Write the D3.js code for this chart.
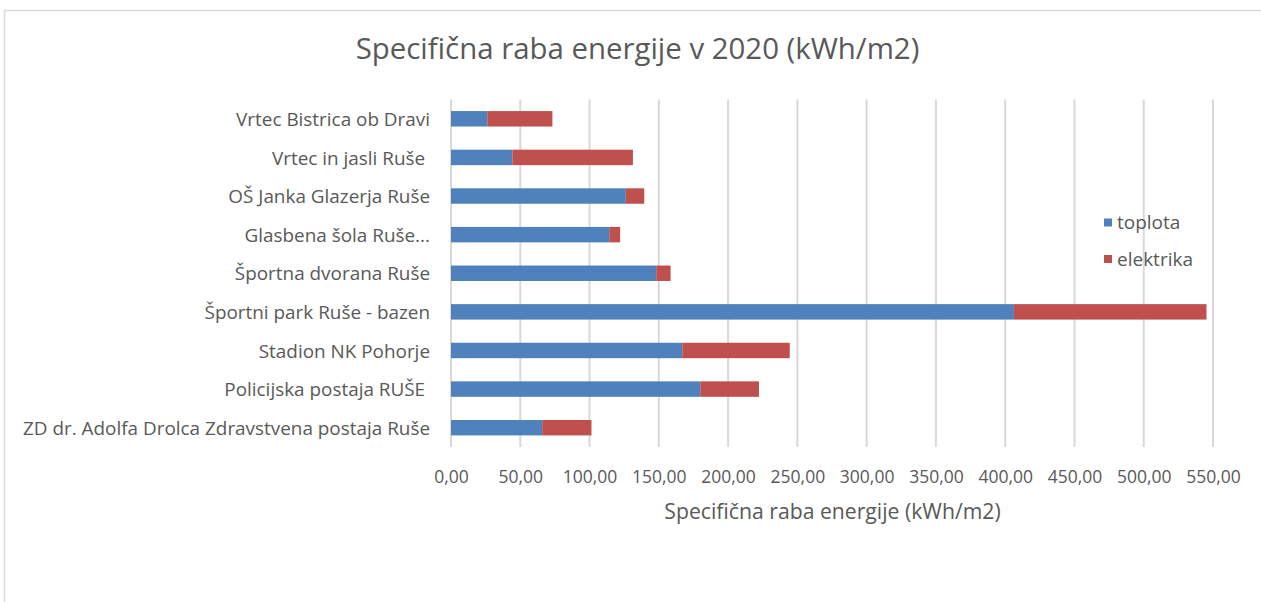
<!DOCTYPE html>
<html><head><meta charset="utf-8">
<script src="https://cdn.jsdelivr.net/npm/d3@7"></script>
<style>body{margin:0;background:#fff}svg{display:block}text{font-family:"Open Sans",sans-serif;fill:#595959;white-space:pre}</style>
</head><body><svg id="c" width="1261" height="602"></svg>
<script>
const categories = ["Vrtec Bistrica ob Dravi","Vrtec in jasli Ruše ","OŠ Janka Glazerja Ruše","Glasbena šola Ruše...","Športna dvorana Ruše","Športni park Ruše - bazen","Stadion NK Pohorje","Policijska postaja RUŠE ","ZD dr. Adolfa Drolca Zdravstvena postaja Ruše"];
const toplota = [26.2, 44.3, 126.2, 114.2, 148.1, 406.3, 166.9, 179.9, 65.8];
const elektrika = [47.0, 87.0, 13.3, 7.9, 10.4, 139.0, 77.6, 42.4, 35.6];
const seriesNames = ["toplota","elektrika"];
const colors = ["#4F81BD","#C0504D"];
const tickValues = [0,50,100,150,200,250,300,350,400,450,500,550];
const title = "Specifična raba energije v 2020 (kWh/m2)";
const xTitle = "Specifična raba energije (kWh/m2)";

const svg = d3.select("#c");
// chart border
svg.append("path").attr("d","M4.5,602 V10.5 H1261").attr("fill","none").attr("stroke","#d9d9d9").attr("stroke-width",1.5);

const L=451, R=1213, T=99.5, B=447;
const x = d3.scaleLinear().domain([0,550]).range([L,R]);
const y = d3.scaleBand().domain(categories).range([T,B]).paddingInner(0.6).paddingOuter(0.3);

svg.append("g").selectAll("line").data(tickValues).join("line")
  .attr("x1",d=>x(d)).attr("x2",d=>x(d)).attr("y1",T).attr("y2",B)
  .attr("stroke","#d9d9d9").attr("stroke-width",2);

const rows = categories.map((c,i)=>({cat:c, toplota:toplota[i], elektrika:elektrika[i]}));
const stacked = d3.stack().keys(seriesNames)(rows);
svg.append("g").selectAll("g").data(stacked).join("g").attr("fill",(d,i)=>colors[i])
  .selectAll("rect").data(d=>d).join("rect")
  .attr("x",d=>x(d[0])).attr("width",d=>x(d[1])-x(d[0]))
  .attr("y",d=>y(d.data.cat)).attr("height",y.bandwidth());

// category labels
const yAxis = svg.append("g").attr("transform",`translate(${L},0)`)
  .call(d3.axisLeft(y).tickSize(0).tickPadding(21));
yAxis.select(".domain").remove();
yAxis.selectAll("text").style("font-size","18.9px").style("font-family","'Open Sans',sans-serif").attr("fill","#595959").attr("dy","0.38em");

// x ticks
const xAxis = svg.append("g").attr("transform",`translate(0,${B})`)
  .call(d3.axisBottom(x).tickValues(tickValues).tickSize(0)
    .tickFormat(d=>d3.format(".2f")(d).replace(".",",")));
xAxis.select(".domain").remove();
xAxis.selectAll("text").style("font-size","17.5px").style("font-family","'Open Sans',sans-serif").attr("fill","#595959").attr("y",36).attr("dy",0);

svg.append("text").attr("x",637.5).attr("y",59).attr("text-anchor","middle").style("font-size","29.4px").text(title);
svg.append("text").attr("x",(L+R)/2+0.5).attr("y",519).attr("text-anchor","middle").style("font-size","21.2px").text(xTitle);

// legend
const lg = svg.append("g").attr("transform","translate(1104,218.5)");
seriesNames.forEach((s,i)=>{
  const g = lg.append("g").attr("transform",`translate(0,${i*36.5})`);
  g.append("rect").attr("width",8).attr("height",8).attr("fill",colors[i]);
  g.append("text").attr("x",13).attr("y",4).attr("dy","0.36em").style("font-size","19px").text(s);
});
</script></body></html>
